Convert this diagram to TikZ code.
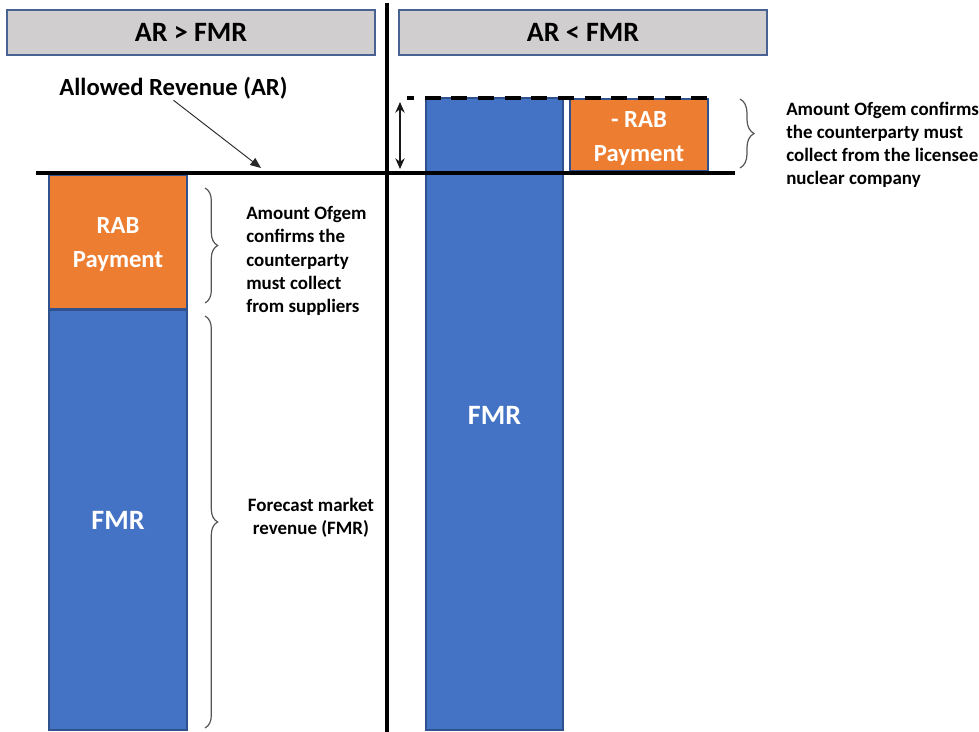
\documentclass[tikz,border=0pt]{standalone}
\usepackage{fontspec}
\setmainfont{Carlito}
\usetikzlibrary{arrows.meta,decorations.pathreplacing}
\definecolor{fmrblue}{RGB}{68,114,196}
\definecolor{raborange}{RGB}{237,125,49}
\definecolor{boxline}{RGB}{47,82,143}
\definecolor{hdrgray}{RGB}{208,206,206}
\definecolor{hdrline}{RGB}{72,98,148}
\definecolor{bracegray}{RGB}{85,85,85}

\tikzset{
  hdrtext/.style={inner sep=0.75pt,font=\bfseries\fontsize{21}{25}\selectfont},
  boxtext/.style={inner sep=0.75pt,align=center,text=white,font=\bfseries\fontsize{18.5}{25.5}\selectfont},
  notetext/.style={inner sep=0.75pt,font=\bfseries\fontsize{14.2}{17.4}\selectfont},
  curly/.style={color=bracegray,line width=0.9pt,decorate,decoration={brace,amplitude=#1}}
}

\begin{document}
\begin{tikzpicture}[x=0.75pt,y=0.75pt,yscale=-1,xscale=1]
\path [use as bounding box] (0,0) rectangle (979,732);

%Shape: Rectangle [headers]
\draw [color=hdrline,line width=1.1pt,fill=hdrgray] (7,10) rectangle (375,55);
\draw [color=hdrline,line width=1.1pt,fill=hdrgray] (399,10) rectangle (767,55);
%Shape: Rectangle [left column]
\draw [color=boxline,line width=0.9pt,fill=raborange] (49,175) rectangle (187,309);
\draw [color=boxline,line width=0.9pt,fill=fmrblue] (49,310) rectangle (187,730);
%Shape: Rectangle [right column]
\draw [color=boxline,line width=0.9pt,fill=fmrblue] (426,98) rectangle (563,730);
\draw [color=boxline,line width=0.9pt,fill=raborange] (570,99) rectangle (708,171);

%Straight Lines
\draw [line width=2.9pt] (387,3) -- (387,732);
\draw [line width=3pt] (36,173) -- (735,173);
\draw [line width=2.4pt,dash pattern=on 12pt off 8pt,dash phase=6.75pt] (407,98) -- (708,98);

% Text Node
\draw (191,32.5) node (hdrL) [hdrtext] {AR > FMR};
% Text Node
\draw (583,32.5) node (hdrR) [hdrtext] {AR < FMR};
% Text Node
\draw (173.5,88) node (alw) [inner sep=0.75pt,font=\bfseries\fontsize{18.5}{22}\selectfont] {Allowed Revenue (AR)};
% Text Node
\draw (118,244) node (rabL) [boxtext] {RAB\\Payment};
% Text Node
\draw (118,520) node (fmrL) [boxtext,font=\bfseries\fontsize{21}{25}\selectfont] {FMR};
% Text Node
\draw (494.5,415) node (fmrR) [boxtext,font=\bfseries\fontsize{21}{25}\selectfont] {FMR};
% Text Node
\draw (639,138) node (rabR) [boxtext] {- RAB\\Payment};
% Text Node
\draw (245,261) node (noteRab) [notetext,anchor=west,align=left] {Amount Ofgem\\confirms the\\counterparty\\must collect\\from suppliers};
% Text Node
\draw (311,518) node (noteFmr) [notetext,align=center] {Forecast market\\revenue (FMR)};
% Text Node
\draw (785,145) node (noteNeg) [notetext,anchor=west,align=left] {Amount Ofgem confirms\\the counterparty must\\collect from the licensee\\nuclear company};

%Arrows
\coordinate (arTip) at (261,168);
\draw [color={rgb, 255:red, 40; green, 40; blue, 40 },line width=0.7pt,-{Triangle[length=8pt,width=6.5pt]}] (alw.south) -- (arTip);
\coordinate (gapTop) at (400,102);
\coordinate (gapBot) at (400,169);
\draw [color={rgb, 255:red, 25; green, 25; blue, 25 },line width=1.2pt,{Stealth[length=8pt,width=7pt]}-{Stealth[length=8pt,width=7pt]}] (gapTop) -- (gapBot);

%Braces
\draw [curly=9.5pt] (205,188) -- (205,303);
\draw [curly=9.5pt] (205,316) -- (205,728);
\draw [curly=10.5pt] (740,99) -- (740,168);

\end{tikzpicture}
\end{document}
